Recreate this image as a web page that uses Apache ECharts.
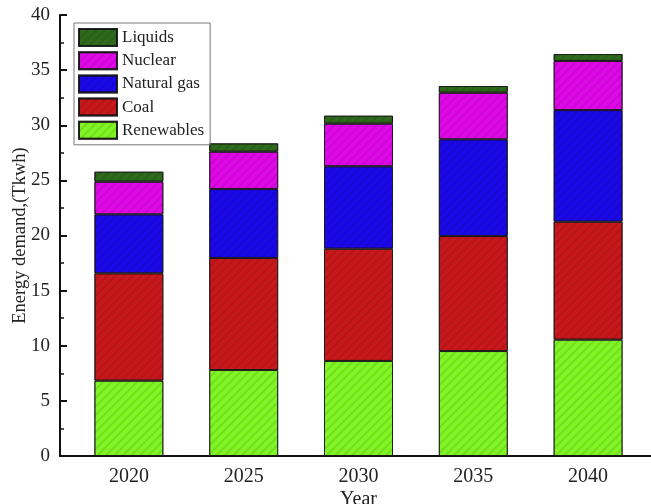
<!DOCTYPE html>
<html><head><meta charset="utf-8">
<script src="https://cdn.jsdelivr.net/npm/echarts@6/dist/echarts.min.js"></script>
<style>html,body{margin:0;padding:0;background:#fff}#c{width:651px;height:504px}</style>
</head><body><div id="c"></div>
<script>
var years = [2020, 2025, 2030, 2035, 2040];
var renewables = [6.83, 7.80, 8.62, 9.52, 10.55];
var coal = [9.74, 10.16, 10.18, 10.43, 10.70];
var naturalGas = [5.35, 6.26, 7.48, 8.78, 10.13];
var nuclear = [2.96, 3.38, 3.86, 4.22, 4.45];
var liquids = [0.91, 0.76, 0.73, 0.61, 0.63];
var yTicks = [0, 5, 10, 15, 20, 25, 30, 35, 40];
var xRange = [2017, 2043];

var axisYears = [];
for (var y = xRange[0]; y <= xRange[1]; y++) axisYears.push(String(y));

var font = '"Liberation Serif", "Times New Roman", serif';
var hatch = {symbol:'rect', symbolSize:1, dashArrayX:[[1,0]], dashArrayY:[1.5,3.5], rotation:-Math.PI/4, color:'rgba(0,0,0,0.1)'};
function mk(name, arr, color){
  return {
    name: name, type: 'bar', stack: 'total', barWidth: 69,
    data: axisYears.map(function(a){
      var i = years.indexOf(Number(a));
      return i >= 0 ? arr[i] : '-';
    }),
    itemStyle: {color: color, borderColor: 'rgba(20,20,20,0.75)', borderWidth: 1, decal: hatch}
  };
}
var chart = echarts.init(document.getElementById('c'), null, {renderer:'canvas'});
chart.setOption({
  animation: false,
  backgroundColor: '#fff',
  grid: {left: 60, right: -6, top: 15, bottom: 48, containLabel: false, outerBoundsMode: 'none'},
  legend: {
    orient: 'vertical', left: 74, top: 23,
    data: ['Liquids','Nuclear','Natural gas','Coal','Renewables'],
    icon: 'rect', itemWidth: 38, itemHeight: 17, itemGap: 4.2,
    padding: [5, 6, 5, 4],
    borderColor: '#777', borderWidth: 1,
    textStyle: {fontFamily: font, fontSize: 17, color: '#222'}
  },
  xAxis: {
    type: 'category', data: axisYears, boundaryGap: false,
    name: 'Year', nameLocation: 'middle', nameGap: 34, nameMoveOverlap: false,
    nameTextStyle: {fontFamily: font, fontSize: 20, color: '#222'},
    axisLine: {show: true, lineStyle: {color: '#111', width: 2}},
    axisTick: {show: false},
    splitLine: {show: false},
    axisLabel: {fontFamily: font, fontSize: 20, color: '#222', margin: 11,
      interval: function(idx, v){ return years.indexOf(Number(v)) >= 0; }}
  },
  yAxis: {
    type: 'value', min: yTicks[0], max: yTicks[yTicks.length-1], interval: 5,
    name: 'Energy demand,(Tkwh)', nameLocation: 'middle', nameGap: 30, nameMoveOverlap: false,
    nameTextStyle: {fontFamily: font, fontSize: 18.5, color: '#222'},
    axisLine: {show: true, lineStyle: {color: '#111', width: 2}},
    axisTick: {show: true, inside: true, length: 7, lineStyle: {color: '#111', width: 2}},
    minorTick: {show: true, splitNumber: 2, length: 4, lineStyle: {color: '#111', width: 1.5}},
    splitLine: {show: false},
    axisLabel: {fontFamily: font, fontSize: 19, color: '#222', margin: 10}
  },
  series: [
    mk('Renewables', renewables, '#80f524'),
    mk('Coal', coal, '#c8181b'),
    mk('Natural gas', naturalGas, '#1a08e8'),
    mk('Nuclear', nuclear, '#e008e8'),
    mk('Liquids', liquids, '#2e6a1c')
  ]
});
</script></body></html>
